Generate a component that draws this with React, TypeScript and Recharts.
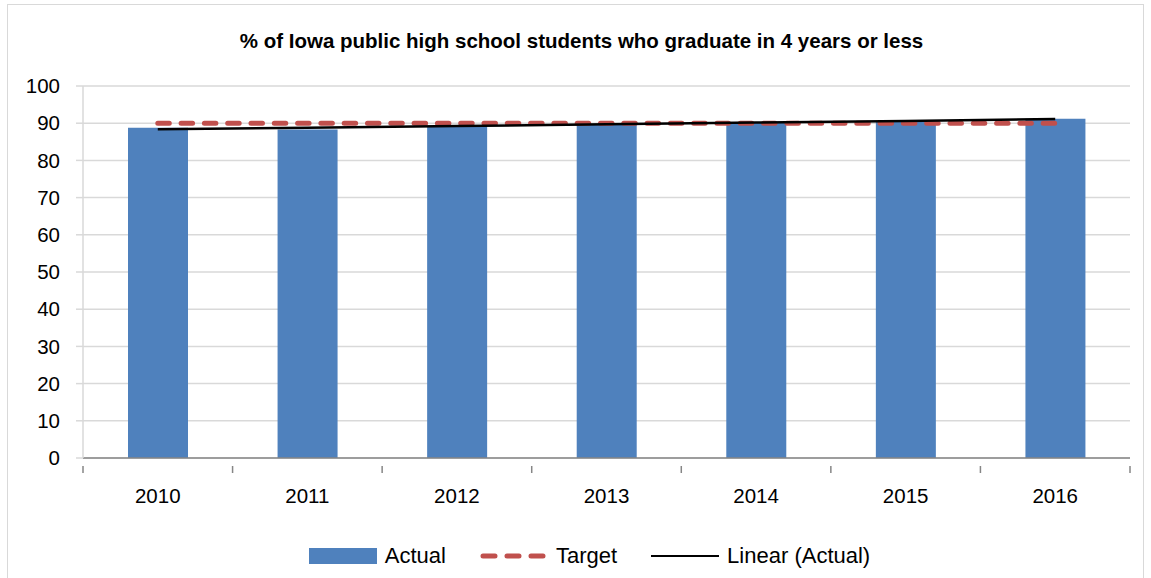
import React from "react";
import { ComposedChart, Bar, Line, XAxis, YAxis, CartesianGrid, Legend } from "recharts";

const years = ["2010", "2011", "2012", "2013", "2014", "2015", "2016"];
const actual = [88.8, 88.3, 89.3, 89.6, 90.2, 90.6, 91.2];
const target = [90, 90, 90, 90, 90, 90, 90];
const linearActual = [88.35, 88.8, 89.25, 89.7, 90.2, 90.6, 91.1];
const yTicks = [0, 10, 20, 30, 40, 50, 60, 70, 80, 90, 100];

const data = years.map((y, i) => ({ year: y, actual: actual[i], target: target[i], linear: linearActual[i] }));

const FONT = "'Liberation Sans', Arial, sans-serif";
const BLUE = "#4F81BD";
const RED = "#C0504D";
const BAND = (1130 - 83) / years.length;

const XTick = (props: any) => {
  const { x, y, payload, index } = props;
  const isLast = index === years.length - 1;
  return (
    <g>
      <line x1={x - BAND / 2} x2={x - BAND / 2} y1={y} y2={y + 7} stroke="#868686" strokeWidth={1.5} />
      {isLast && <line x1={x + BAND / 2} x2={x + BAND / 2} y1={y} y2={y + 7} stroke="#868686" strokeWidth={1.5} />}
      <text x={x} y={y + 37} textAnchor="middle" fontFamily={FONT} fontSize={20.5} fill="#000">
        {payload.value}
      </text>
    </g>
  );
};

const LegendContent = () => (
  <div style={{ display: "flex", justifyContent: "center", alignItems: "center", fontFamily: FONT, fontSize: 22, color: "#000", paddingLeft: 28 }}>
    <div style={{ display: "flex", alignItems: "center", marginRight: 34 }}>
      <div style={{ width: 68, height: 16, background: BLUE, marginRight: 8 }} />
      <span>Actual</span>
    </div>
    <div style={{ display: "flex", alignItems: "center", marginRight: 34 }}>
      <svg width={68} height={10} style={{ marginRight: 8 }}>
        <line x1={3} x2={66} y1={5} y2={5} stroke={RED} strokeWidth={5} strokeLinecap="round" strokeDasharray="12 12" />
      </svg>
      <span>Target</span>
    </div>
    <div style={{ display: "flex", alignItems: "center" }}>
      <div style={{ width: 68, height: 2.5, background: "#000", marginRight: 8 }} />
      <span>Linear (Actual)</span>
    </div>
  </div>
);

export default function App() {
  return (
    <div style={{ position: "absolute", left: 0, top: 0, width: 1151, height: 578, background: "#fff", overflow: "hidden" }}>
      <div style={{ position: "absolute", left: 7, top: 4, width: 1135, height: 600, border: "1.5px solid #D9D9D9" }} />
      <div style={{ position: "absolute", left: 0, top: 29, width: 1163, textAlign: "center", fontFamily: FONT, fontWeight: "bold", fontSize: 20.5, color: "#000" }}>
        % of Iowa public high school students who graduate in 4 years or less
      </div>
      <div style={{ position: "absolute", left: 0, top: 0 }}>
        <ComposedChart width={1151} height={578} data={data} margin={{ top: 86, right: 21, bottom: 90, left: 3 }}>
          <CartesianGrid vertical={false} stroke="#D9D9D9" strokeWidth={1.5} />
          <XAxis dataKey="year" height={30} axisLine={{ stroke: "#868686", strokeWidth: 1.5 }} tickLine={false} tick={<XTick />} interval={0} />
          <YAxis
            domain={[0, 100]}
            ticks={yTicks}
            width={80}
            axisLine={{ stroke: "#D9D9D9", strokeWidth: 1.5 }}
            tickLine={{ stroke: "#D9D9D9", strokeWidth: 1.5 }}
            tickSize={7}
            tickMargin={16}
            tick={{ fontFamily: FONT, fontSize: 20.5, fill: "#000" }}
          />
          <YAxis yAxisId="r" orientation="right" width={0} domain={[0, 100]} tick={false} tickLine={false} axisLine={{ stroke: "#D9D9D9", strokeWidth: 1.5 }} />
          <Bar dataKey="actual" fill={BLUE} barSize={60} isAnimationActive={false} />
          <Line dataKey="target" stroke={RED} strokeWidth={5} strokeLinecap="round" strokeDasharray="11.5 11.8" dot={false} activeDot={false} isAnimationActive={false} />
          <Line dataKey="linear" stroke="#000" strokeWidth={2.5} dot={false} activeDot={false} isAnimationActive={false} />
          <Legend layout="horizontal" verticalAlign="middle" align="center" wrapperStyle={{ top: 543, left: 0, width: 1151 }} content={<LegendContent />} />
        </ComposedChart>
      </div>
    </div>
  );
}
